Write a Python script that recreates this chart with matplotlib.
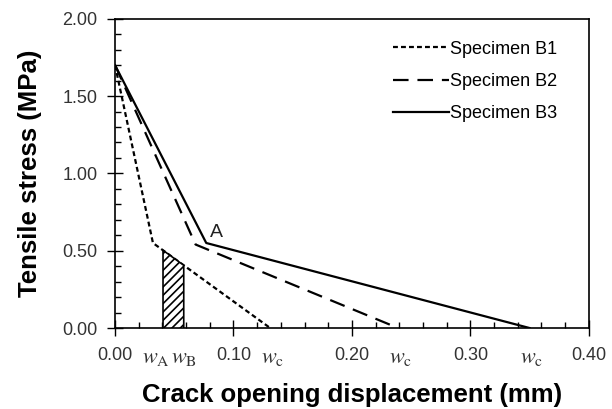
import matplotlib
matplotlib.use("Agg")
import matplotlib.pyplot as plt
from matplotlib.ticker import MultipleLocator

plt.rcParams['font.family'] = ['Liberation Sans', 'DejaVu Sans']
plt.rcParams['mathtext.fontset'] = 'stix'
plt.rcParams['hatch.linewidth'] = 1.2

# bilinear softening curves: (w, stress) points
b1_w = [0.0, 0.032, 0.131]
b1_s = [1.70, 0.55, 0.0]
b2_w = [0.0, 0.068, 0.239]
b2_s = [1.70, 0.54, 0.0]
b3_w = [0.0, 0.077, 0.350]
b3_s = [1.70, 0.55, 0.0]

w_a = 0.0405
w_b = 0.058

fig = plt.figure(figsize=(6.12, 4.09), dpi=100)
ax = fig.add_axes([0.188, 0.198, 0.774, 0.756])

ax.plot(b1_w, b1_s, color='black', lw=1.6, linestyle=(0, (2.2, 1.4)), label='Specimen B1')
ax.plot(b2_w, b2_s, color='black', lw=1.6, linestyle=(0, (7, 4)), label='Specimen B2')
ax.plot(b3_w, b3_s, color='black', lw=1.6, label='Specimen B3')

# hatched strip under B1 between wA and wB
def b1_at(w):
    return b1_s[1] * (b1_w[2] - w) / (b1_w[2] - b1_w[1])

ax.fill_between([w_a, w_b], [0, 0], [b1_at(w_a), b1_at(w_b)],
                facecolor='white', edgecolor='black', hatch='////', lw=1.2, zorder=3)

ax.text(0.080, 0.56, 'A', fontsize=14, ha='left', va='bottom', color='#222222')

ax.set_xlim(0, 0.40)
ax.set_ylim(0, 2.0)
ax.xaxis.set_major_locator(MultipleLocator(0.10))
ax.xaxis.set_minor_locator(MultipleLocator(0.02))
ax.yaxis.set_major_locator(MultipleLocator(0.50))
ax.yaxis.set_minor_locator(MultipleLocator(0.10))
ax.xaxis.set_major_formatter(lambda v, p: '%.2f' % v)
ax.yaxis.set_major_formatter(lambda v, p: '%.2f' % v)
ax.tick_params(which='major', direction='inout', length=11, width=1.0,
               labelsize=13, labelcolor='#333333')
ax.tick_params(which='minor', direction='in', length=4, width=1.0)
ax.tick_params(axis='x', which='major', pad=8)
ax.tick_params(axis='y', which='major', pad=7)
for sp in ax.spines.values():
    sp.set_linewidth(1.2)

# critical opening labels under the axis
for x, sub in [(0.0345, 'A'), (0.0585, 'B'), (b1_w[2] + 0.002, 'c'),
               (b2_w[2] + 0.002, 'c'), (b3_w[2] + 0.002, 'c')]:
    ax.text(x, -0.125, r'$w_{\mathrm{%s}}$' % sub, fontsize=16, ha='center', va='top',
            color='#333333')

ax.set_xlabel('Crack opening displacement (mm)', fontsize=18.5, fontweight='bold', labelpad=14)
ax.set_ylabel('Tensile stress (MPa)', fontsize=18.5, fontweight='bold', labelpad=15)

ax.legend(loc='upper right', bbox_to_anchor=(0.968, 0.982), frameon=False, fontsize=13,
          handlelength=3.1, handletextpad=0.05, labelspacing=0.85)

fig.savefig('out.png', dpi=100)
